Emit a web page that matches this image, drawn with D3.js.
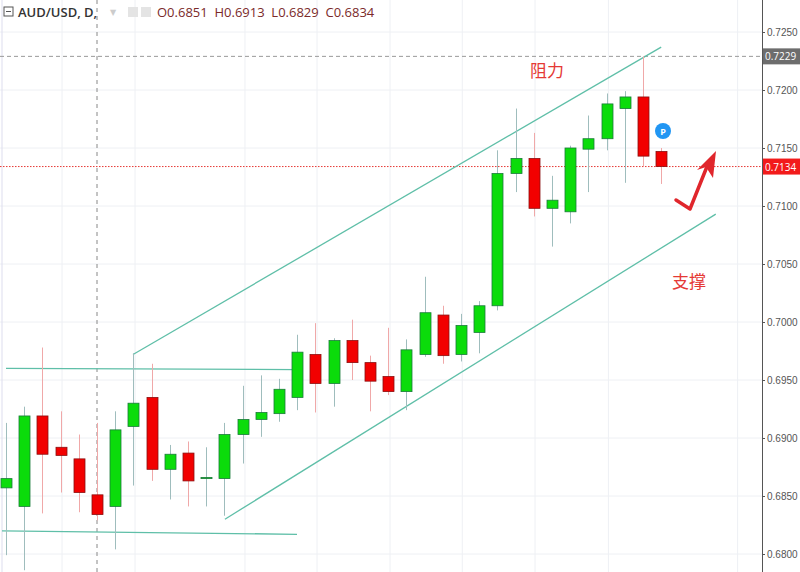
<!DOCTYPE html>
<html><head><meta charset="utf-8">
<script src="https://cdn.jsdelivr.net/npm/d3@7"></script>
<style>body{margin:0;background:#fff}svg{display:block;font-family:"Open Sans","DejaVu Sans",sans-serif}</style>
</head><body><svg id="c" width="800" height="572"></svg>
<script>
const opens  = [.6857,.6841,.6919,.6892,.6882,.6851,.6841,.6910,.6935,.6873,.6887,.6865,.6865,.6903,.6916,.6921,.6935,.6972,.6947,.6984,.6965,.6953,.6940,.6972,.7006,.6972,.6991,.7014,.7128,.7141,.7098,.7095,.7149,.7158,.7184,.7194,.7147];
const highs  = [.6913,.6927,.6978,.6923,.6903,.6913,.6923,.6973,.6964,.6894,.6897,.6892,.6913,.6945,.6954,.6951,.6989,.6999,.6986,.7002,.6971,.6995,.6985,.7039,.7014,.7007,.7018,.7148,.7184,.7163,.7126,.7152,.7178,.7197,.7199,.7229,.7150];
const lows   = [.6799,.6786,.6835,.6853,.6836,.6829,.6804,.6859,.6863,.6847,.6841,.6841,.6833,.6878,.6901,.6914,.6924,.6922,.6927,.6950,.6923,.6937,.6924,.6970,.6964,.6966,.6973,.7010,.7112,.7091,.7065,.7085,.7112,.7148,.7120,.7134,.7119];
const closes = [.6865,.6919,.6886,.6885,.6853,.6834,.6907,.6930,.6873,.6886,.6863,.6866,.6903,.6916,.6922,.6942,.6974,.6947,.6984,.6965,.6949,.6940,.6976,.7008,.6971,.6997,.7014,.7128,.7141,.7098,.7105,.7150,.7158,.7188,.7194,.7143,.7134];
const yTicks = [0.680,0.685,0.690,0.695,0.700,0.705,0.710,0.715,0.720,0.725];
const trendLines = [ // [index, price] pairs
  [[6.98,0.6972],[36.0,0.7237]],
  [[12.03,0.6830],[39.0,0.7093]],
  [[0,0.6960],[15.99,0.6959]],
  [[-0.22,0.6820],[15.99,0.6817]]
];
const gridIdx = [3.08,7.09,13.13,17.09,21.1,25.07,29.07,33.1,40.2];
const lastPrice = 0.7134, markPrice = 0.7229;

const svg = d3.select("#c");
const W=762, H=572;
const x = d3.scaleLinear().domain([-0.33,41.54]).range([0,W]);
const y = d3.scaleLinear().domain([0.6800,0.7250]).range([554,32]);

svg.append("g").selectAll("line").data(yTicks).join("line")
 .attr("x1",0).attr("x2",W).attr("y1",d=>y(d)).attr("y2",d=>y(d)).attr("stroke","#eef0f4");
svg.append("g").selectAll("line").data(gridIdx).join("line")
 .attr("x1",d=>x(d)).attr("x2",d=>x(d)).attr("y1",0).attr("y2",H).attr("stroke","#eef0f4");
svg.append("line").attr("x1",2).attr("x2",2).attr("y1",0).attr("y2",H).attr("stroke","#dde");

svg.append("line").attr("x1",x(5)).attr("x2",x(5)).attr("y1",0).attr("y2",H)
 .attr("stroke","#888").attr("stroke-dasharray","4,4");
svg.append("line").attr("x1",0).attr("x2",W).attr("y1",y(markPrice)).attr("y2",y(markPrice))
 .attr("stroke","#999").attr("stroke-dasharray","4,3");
svg.append("line").attr("x1",0).attr("x2",W).attr("y1",y(lastPrice)).attr("y2",y(lastPrice))
 .attr("stroke","#e53935").attr("stroke-dasharray","1.5,1.5");

svg.append("g").selectAll("line").data(trendLines).join("line")
 .attr("x1",d=>x(d[0][0])).attr("y1",d=>y(d[0][1])).attr("x2",d=>x(d[1][0])).attr("y2",d=>y(d[1][1]))
 .attr("stroke","#5fbfa8").attr("stroke-width",1.3);

const idx = d3.range(opens.length);
const up = i=>closes[i]>=opens[i];
const g = svg.append("g");
g.selectAll("line.w").data(idx).join("line").attr("class","w")
 .attr("x1",i=>Math.round(x(i))+0.5).attr("x2",i=>Math.round(x(i))+0.5)
 .attr("y1",i=>y(highs[i])).attr("y2",i=>y(lows[i]))
 .attr("stroke",i=>up(i)?"#9fbdbd":"#f0a8a8");
g.selectAll("rect").data(idx).join("rect")
 .attr("x",i=>Math.round(x(i))-5).attr("width",11)
 .attr("y",i=>y(Math.max(opens[i],closes[i])))
 .attr("height",i=>Math.max(1,Math.abs(y(opens[i])-y(closes[i]))))
 .attr("fill",i=>up(i)?"#0bdc0b":"#f20000")
 .attr("stroke",i=>up(i)?"#1a7a3a":"#8a1010").attr("stroke-width",0.8);

svg.append("text").attr("x",530).attr("y",77).attr("fill","#e53935").attr("font-size",17)
 .attr("font-family","Noto Sans CJK SC").text("阻力");
svg.append("text").attr("x",672).attr("y",288).attr("fill","#e53935").attr("font-size",17)
 .attr("font-family","Noto Sans CJK SC").text("支撑");
svg.append("circle").attr("cx",663).attr("cy",131).attr("r",8).attr("fill","#2196f3");
svg.append("text").attr("x",663).attr("y",134.5).attr("text-anchor","middle").attr("fill","#fff")
 .attr("font-size",9).attr("font-weight","bold").text("P");
svg.append("path").attr("d","M676,200 L690,209 L708,164").attr("fill","none")
 .attr("stroke","#e0262c").attr("stroke-width",3.5).attr("stroke-linejoin","round").attr("stroke-linecap","round");
svg.append("path").attr("d","M716,151 L697,170 L706,167 L713,178 Z").attr("fill","#e0262c");

svg.append("rect").attr("x",W).attr("y",0).attr("width",800-W).attr("height",H).attr("fill","#fff");
svg.append("line").attr("x1",W+0.5).attr("x2",W+0.5).attr("y1",0).attr("y2",H).attr("stroke","#555");
const ax = svg.append("g").attr("transform",`translate(${W},0)`)
 .call(d3.axisRight(y).tickValues(yTicks).tickFormat(d3.format(".4f")).tickSize(3).tickPadding(2));
ax.select(".domain").remove();
ax.selectAll("text").attr("fill","#555").attr("font-size",10);
ax.selectAll("line").attr("stroke","#555");
[[markPrice,"#6d6d6d"],[lastPrice,"#f21b1b"]].forEach(([v,c])=>{
  svg.append("rect").attr("x",W+1).attr("y",y(v)-8).attr("width",37).attr("height",16).attr("fill",c);
  svg.append("text").attr("x",W+3).attr("y",y(v)+4).attr("fill","#fff").attr("font-size",10).text(d3.format(".4f")(v));
});

svg.append("text").attr("x",18).attr("y",17).attr("font-size",13).attr("font-weight",600).attr("fill","#333").text("AUD/USD, D,");
svg.append("text").attr("x",110).attr("y",15).attr("font-size",8).attr("fill","#ccc").text("▼");
svg.append("text").attr("x",157).attr("y",17).attr("font-size",13).attr("fill","#7b2a2a").attr("xml:space","preserve")
 .text("O0.6851  H0.6913  L0.6829  C0.6834");
svg.append("rect").attr("x",4).attr("y",7).attr("width",9).attr("height",9).attr("fill","none").attr("stroke","#555");
svg.append("line").attr("x1",6).attr("x2",11).attr("y1",11.5).attr("y2",11.5).attr("stroke","#555");
svg.append("rect").attr("x",128).attr("y",7).attr("width",10).attr("height",10).attr("fill","#e4e4e4");
svg.append("rect").attr("x",141).attr("y",7).attr("width",10).attr("height",10).attr("fill","#e4e4e4");
</script></body></html>
